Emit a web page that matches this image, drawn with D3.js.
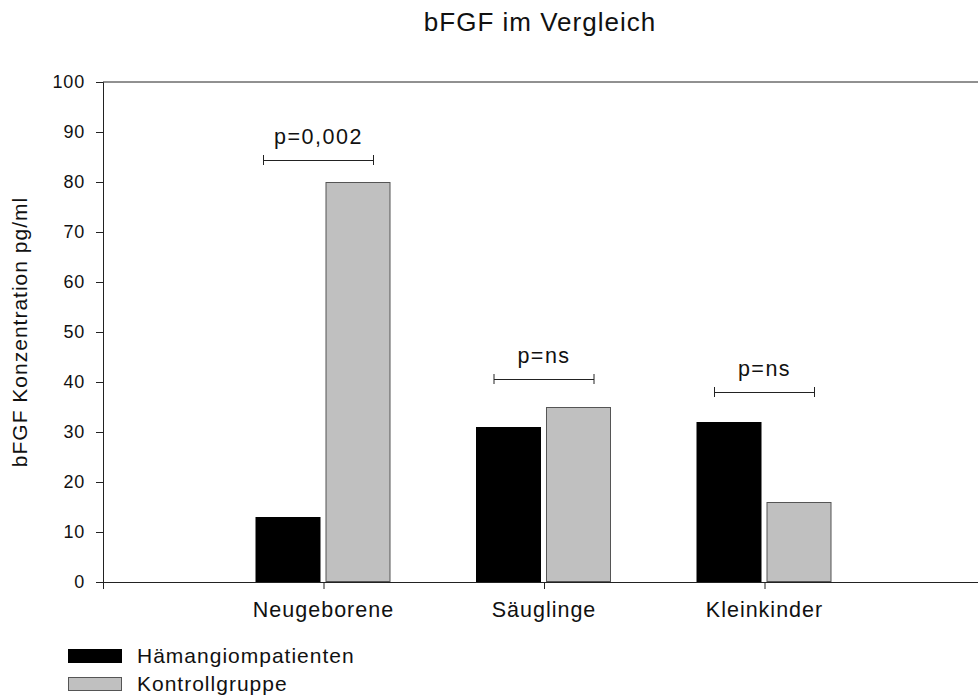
<!DOCTYPE html>
<html>
<head>
<meta charset="utf-8">
<script src="https://cdn.jsdelivr.net/npm/d3@7"></script>
<style>
  body { margin: 0; background: #fff; }
  svg text { font-family: "Liberation Sans", Arial, sans-serif; fill: #111; }
</style>
</head>
<body>
<div id="chart"></div>
<script>
var width = 978;
var height = 697;

// data
var categories = ["Neugeborene", "Säuglinge", "Kleinkinder"];
var seriesNames = ["Hämangiompatienten", "Kontrollgruppe"];
var patienten = [13, 31, 32];
var kontrolle = [80, 35, 16];
var pLabels = ["p=0,002", "p=ns", "p=ns"];
var pLevels = [84.5, 40.5, 38];
var yTicks = [0, 10, 20, 30, 40, 50, 60, 70, 80, 90, 100];

var colors = ["#000000", "#c0c0c0"];
var strokes = ["#000000", "#555555"];

var svg = d3.select("#chart")
        .append("svg")
            .attr("width", width)
            .attr("height", height);

// x: slot 0 is the empty left edge, categories at 1..3
var x = d3.scaleLinear().domain([0, 4]).range([103, 985]);
var y = d3.scaleLinear().domain([0, 100]).range([582, 82]);
var inner = d3.scaleBand().domain([0, 1]).range([-68, 67]).paddingInner(0.0714);

// title
svg.append("text")
    .attr("x", 540).attr("y", 31)
    .attr("text-anchor", "middle")
    .style("font-size", "26px").style("letter-spacing", "1px")
    .text("bFGF im Vergleich");

// y axis
var yAxis = svg.append("g")
    .attr("transform", "translate(103,0)")
    .call(d3.axisLeft(y).tickValues(yTicks).tickSize(7).tickPadding(11));
yAxis.selectAll("text").style("font-size", "18px").style("letter-spacing", "0.8px").attr("fill", "#111");
yAxis.selectAll("line, path").attr("stroke", "#222");

svg.append("text")
    .attr("transform", "translate(27," + y(50) + ") rotate(-90)")
    .attr("text-anchor", "middle")
    .style("font-size", "21px").style("letter-spacing", "1px")
    .text("bFGF Konzentration pg/ml");

// top frame line
svg.append("line")
    .attr("x1", x(0)).attr("x2", x(4))
    .attr("y1", y(100)).attr("y2", y(100))
    .attr("stroke", "#222");

// x axis
var xAxis = svg.append("g")
    .attr("transform", "translate(0," + y(0) + ")")
    .call(d3.axisBottom(x).tickValues([0, 1, 2, 3, 4]).tickSize(7).tickFormat(""));
xAxis.selectAll("line, path").attr("stroke", "#222");

svg.selectAll(".cat")
    .data(categories)
    .enter().append("text")
    .attr("class", "cat")
    .attr("x", (d, i) => x(i + 1))
    .attr("y", 617)
    .attr("text-anchor", "middle")
    .style("font-size", "21.5px").style("letter-spacing", "1px")
    .text(d => d);

// bars
var rows = categories.map((c, i) => ({cat: i, values: [patienten[i], kontrolle[i]]}));

var group = svg.selectAll(".grp")
    .data(rows)
    .enter().append("g")
    .attr("class", "grp")
    .attr("transform", d => "translate(" + x(d.cat + 1) + ",0)");

group.selectAll("rect")
    .data(d => d.values.map((v, s) => ({s: s, v: v})))
    .enter().append("rect")
    .attr("x", d => inner(d.s) + 0.5)
    .attr("y", d => y(d.v) + 0.5)
    .attr("width", inner.bandwidth() - 1)
    .attr("height", d => y(0) - y(d.v) - 1)
    .attr("fill", d => colors[d.s])
    .attr("stroke", d => strokes[d.s]);

// significance brackets
var br = svg.selectAll(".br")
    .data(pLabels)
    .enter().append("g")
    .attr("class", "br")
    .attr("transform", (d, i) => "translate(" + (x(i + 1) + (i === 0 ? -5 : 0)) + "," + Math.round(y(pLevels[i])) + ")");

br.append("path")
    .attr("d", (d, i) => {
      var h = i === 0 ? 55 : 50;
      return "M" + (-h) + ",-5V5M" + (-h) + ",0.5H" + h + "M" + h + ",-5V5";
    })
    .attr("fill", "none")
    .attr("stroke", "#222");

br.append("text")
    .attr("x", 0).attr("y", -16)
    .attr("text-anchor", "middle")
    .style("font-size", "21.5px").style("letter-spacing", "1.5px")
    .text(d => d);

// legend
var legend = svg.selectAll(".leg")
    .data(seriesNames)
    .enter().append("g")
    .attr("class", "leg")
    .attr("transform", (d, i) => "translate(68," + (649 + i * 28) + ")");

legend.append("rect")
    .attr("x", 0.5).attr("y", 0.5)
    .attr("width", 53).attr("height", 13)
    .attr("fill", (d, i) => colors[i])
    .attr("stroke", (d, i) => strokes[i]);

legend.append("text")
    .attr("x", 69).attr("y", 14)
    .style("font-size", "21px").style("letter-spacing", "1px")
    .text(d => d);
</script>
</body>
</html>
